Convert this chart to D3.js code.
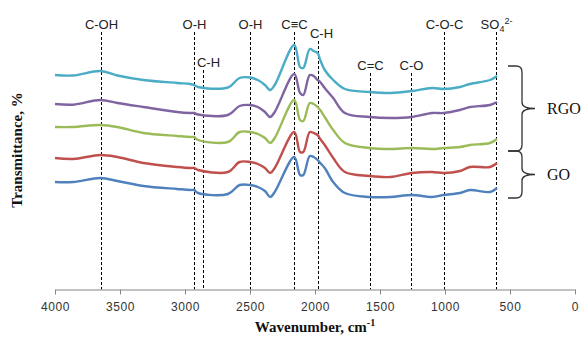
<!DOCTYPE html>
<html>
<head>
<meta charset="utf-8">
<script src="https://cdn.jsdelivr.net/npm/d3@7"></script>
<style>
  body { margin: 0; background: #fff; }
  svg { display: block; }
</style>
</head>
<body>
<div id="chart"></div>
<script>
// wavenumbers (cm-1) at which the spectra were read
const wavenumbers = [4000, 3860, 3650, 3520, 3320, 3060, 2960, 2930, 2900, 2670, 2580, 2500, 2440, 2385, 2345, 2310,
  2160, 2115, 2090, 2040, 2010, 1980, 1960, 1925, 1860, 1770, 1580, 1420, 1255, 1100, 1010, 885, 808, 654, 600];

// transmittance (arbitrary offset units), top curve first
const rgoA = [215, 214.5, 219, 214.5, 210, 207, 206, 205, 203, 202.5, 212, 212.5, 210, 205, 200, 205,
  245, 223, 222, 241, 239, 237, 230, 220, 210, 201, 198, 197, 199, 202, 201, 203, 206, 210, 214];
const rgoB = [186, 185.3, 190, 187, 183, 178, 177, 177, 175.5, 175, 184, 185, 183, 178, 173, 178,
  216, 197, 195, 215, 214, 210, 208, 202, 192, 177, 173, 172, 173, 177, 177, 180, 183, 185, 188];
const rgoC = [163, 163, 165, 163, 157, 154, 153, 153, 150, 148, 158, 158, 156, 152, 147, 152,
  190, 170, 169, 187, 186, 183, 180, 173, 160, 147, 142, 141, 142, 141, 142, 143, 145, 147, 151];
const goA = [132, 131, 135, 133, 127, 123, 122, 122, 120, 118, 128, 128, 126, 122, 117, 122,
  158, 138, 138, 158, 157, 155, 151, 145, 132, 118, 114, 113, 117, 118, 117, 119, 123, 123, 127];
const goB = [108, 108, 112, 109, 104, 101, 100, 100, 97, 96, 105, 105, 103, 99, 93, 98,
  133, 115, 115, 134, 133, 130, 127, 122, 108, 97, 93, 93, 95, 93, 95, 97, 100, 98, 102];

const seriesValues = [rgoA, rgoB, rgoC, goA, goB];
const seriesColors = ['#4bacc6', '#8064a2', '#9bbb59', '#c0504d', '#4f81bd'];

// assigned bands
const bandWavenumbers = [3645, 2930, 2865, 2500, 2160, 1980, 1580, 1260, 1010, 605];
const bandLabels = ['C-OH', 'O-H', 'C-H', 'O-H', 'C\u2261C', 'C-H', 'C=C', 'C-O', 'C-O-C', 'SO4'];

const groupNames = ['RGO', 'GO'];
const groupSizes = [3, 2];

const xTicks = [4000, 3500, 3000, 2500, 2000, 1500, 1000, 500, 0];

const width = 587, height = 338;
const svg = d3.select('#chart').append('svg')
  .attr('width', width)
  .attr('height', height);

const x = d3.scaleLinear().domain([4000, 0]).range([55, 575]);
const y = d3.scaleLinear().domain([0, 260]).range([290, 30]);
const axisY = 289.5;

// dashed band markers; which labels sit lower to avoid crowding
const labelDrop = { 2: 38, 5: 9, 6: 41, 7: 41 };
const bands = svg.append('g');
bandWavenumbers.forEach((w, i) => {
  const drop = labelDrop[i] || 0;
  const bx = Math.round(x(w)) + 0.5;
  bands.append('line')
    .attr('x1', bx).attr('x2', bx)
    .attr('y1', 32 + drop).attr('y2', axisY)
    .attr('stroke', '#000')
    .attr('stroke-width', 1)
    .attr('stroke-dasharray', '3,2');
  const dx = (i === 2) ? 5 : (i === 5 ? 3 : 0);
  const t = bands.append('text')
    .attr('x', bx + dx)
    .attr('y', 29 + drop)
    .attr('text-anchor', 'middle')
    .style('font-family', 'Liberation Sans, Arial, sans-serif')
    .style('font-size', '13px')
    .style('fill', '#222');
  if (bandLabels[i] === 'SO4') {
    t.text('SO');
    t.append('tspan').attr('dy', 3).style('font-size', '9px').text('4');
    t.append('tspan').attr('dy', -8).style('font-size', '9px').text('2-');
  } else {
    t.text(bandLabels[i]);
  }
});

// spectra
const line = d3.line()
  .x((d) => x(d[0]))
  .y((d) => y(d[1]))
  .curve(d3.curveCatmullRom.alpha(0.5));

seriesValues.forEach((vals, i) => {
  svg.append('path')
    .datum(wavenumbers.map((w, j) => [w, vals[j]]))
    .attr('d', line)
    .attr('fill', 'none')
    .attr('stroke', seriesColors[i])
    .attr('stroke-width', 2.4)
    .attr('stroke-linejoin', 'round');
});

// x axis
const xAxis = svg.append('g')
  .attr('transform', 'translate(0,' + axisY + ')')
  .call(d3.axisBottom(x).tickValues(xTicks).tickSize(5).tickSizeOuter(0).tickPadding(8).tickFormat(d3.format('d')));
xAxis.select('.domain').attr('stroke', '#868686');
xAxis.selectAll('.tick line').attr('stroke', '#868686');
xAxis.selectAll('.tick text')
  .style('font-family', 'Liberation Sans, Arial, sans-serif')
  .style('font-size', '12px')
  .style('letter-spacing', '0.6px')
  .style('fill', '#333');

// axis titles
const xt = svg.append('text')
  .attr('x', 315)
  .attr('y', 332)
  .attr('text-anchor', 'middle')
  .style('font-family', 'Liberation Serif, Times New Roman, serif')
  .style('font-weight', 'bold')
  .style('font-size', '15px')
  .style('fill', '#111')
  .text('Wavenumber, cm');
xt.append('tspan').attr('dy', -6).style('font-size', '10px').text('-1');

svg.append('text')
  .attr('transform', 'translate(22,150) rotate(-90)')
  .attr('text-anchor', 'middle')
  .style('font-family', 'Liberation Serif, Times New Roman, serif')
  .style('font-weight', 'bold')
  .style('font-size', '15px')
  .style('fill', '#111')
  .text('Transmittance, %');

// group braces
const lastY = seriesValues.map((v) => y(v[v.length - 1]));
let start = 0;
const bx0 = 508, bx1 = 522, bx2 = 535, r = 6;
groupNames.forEach((name, g) => {
  const end = start + groupSizes[g] - 1;
  const top = start === 0 ? lastY[start] - 10 : (lastY[start - 1] + lastY[start]) / 2;
  const bottom = end === lastY.length - 1 ? lastY[end] + 10 : (lastY[end] + lastY[end + 1]) / 2;
  const mid = (top + bottom) / 2;
  const p = 'M' + bx0 + ',' + top +
    ' L' + (bx1 - r) + ',' + top +
    ' Q' + bx1 + ',' + top + ' ' + bx1 + ',' + (top + r) +
    ' L' + bx1 + ',' + (mid - r) +
    ' Q' + bx1 + ',' + mid + ' ' + bx2 + ',' + mid +
    ' Q' + bx1 + ',' + mid + ' ' + bx1 + ',' + (mid + r) +
    ' L' + bx1 + ',' + (bottom - r) +
    ' Q' + bx1 + ',' + bottom + ' ' + (bx1 - r) + ',' + bottom +
    ' L' + bx0 + ',' + bottom;
  svg.append('path')
    .attr('d', p)
    .attr('fill', 'none')
    .attr('stroke', '#333')
    .attr('stroke-width', 1.3);
  svg.append('text')
    .attr('x', 547)
    .attr('y', mid + 5)
    .style('font-family', 'Liberation Serif, Times New Roman, serif')
    .style('font-size', '16px')
    .style('fill', '#111')
    .text(name);
  start = end + 1;
});
</script>
</body>
</html>
